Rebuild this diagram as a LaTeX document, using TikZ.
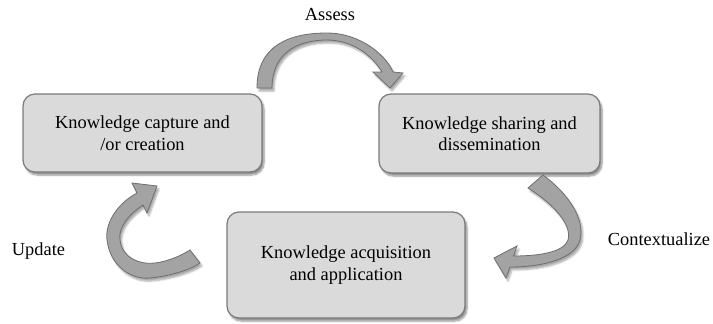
\documentclass[tikz,border=0pt]{standalone}
\usepackage{fontspec}
\setmainfont{Liberation Serif}
\usetikzlibrary{shadows.blur}
\definecolor{boxfill}{HTML}{DADADA}
\definecolor{boxline}{HTML}{7A7A7A}
\definecolor{arrfill}{HTML}{A3A3A3}
\definecolor{arrline}{HTML}{6E6E6E}
\tikzset{
  kbox/.style={draw=boxline, line width=1.2pt, fill=boxfill, rounded corners=12pt,
    align=center, font=\fontsize{18.4}{21.5}\selectfont, inner sep=0pt,
    blur shadow={shadow xshift=2pt, shadow yshift=-3pt, shadow blur steps=6, shadow opacity=45}},
  lbl/.style={font=\fontsize{18.4}{21.5}\selectfont, inner sep=0pt},
  carrow/.style={fill=arrfill, draw=arrline, line width=0.8pt, line join=miter,
    blur shadow={shadow xshift=2pt, shadow yshift=-3pt, shadow blur steps=5, shadow opacity=35}}
}
\begin{document}
\begin{tikzpicture}[x=1pt,y=-1pt]
\useasboundingbox (0,0) rectangle (713,324);
% boxes
\node[kbox, minimum width=239pt, minimum height=78pt] (cap) at (142.5,133) {Knowledge capture and\\/or creation};
\node[kbox, minimum width=221pt, minimum height=79pt] (share) at (489.5,133.5) {Knowledge sharing and\\dissemination};
\node[kbox, minimum width=238pt, minimum height=106pt] (acq) at (346,265) {Knowledge acquisition\\and application};
% labels
\node[lbl] (assess) at (330,15) {Assess};
\node[lbl] (ctx) at (659,239) {Contextualize};
\node[lbl] (upd) at (38.5,251) {Update};
% Assess arrow
\path[carrow] (272,88) .. controls (272,55) and (295,40) .. (327,40)
  .. controls (352,40) and (372,55) .. (382,72)
  -- (373,72) -- (390,88) -- (403,73) -- (393,72)
  .. controls (386,55) and (360,33) .. (327,33)
  .. controls (290,33) and (257,45) .. (257,88) -- cycle;
% Contextualize arrow
\path[carrow] (528,188) -- (543,175)
  .. controls (570,195) and (585,220) .. (580,240)
  .. controls (575,258) and (545,267) .. (510,267)
  -- (506,278) -- (494,258) -- (517,246) -- (513.5,256)
  .. controls (540,256) and (564,252) .. (568,240)
  .. controls (572,225) and (555,205) .. (528,188) -- cycle;
% Update arrow
\path[carrow] (200,263) -- (190,250)
  .. controls (182,255) and (170,261) .. (155,263)
  .. controls (140,265) and (122,258) .. (120,240)
  .. controls (118,228) and (128,215) .. (143,205)
  -- (147,213) -- (157,186) -- (132,183) -- (137,193)
  .. controls (115,205) and (105,225) .. (107,240)
  .. controls (110,265) and (130,280) .. (150,278)
  .. controls (170,276) and (190,270) .. (200,263) -- cycle;
\end{tikzpicture}
\end{document}
